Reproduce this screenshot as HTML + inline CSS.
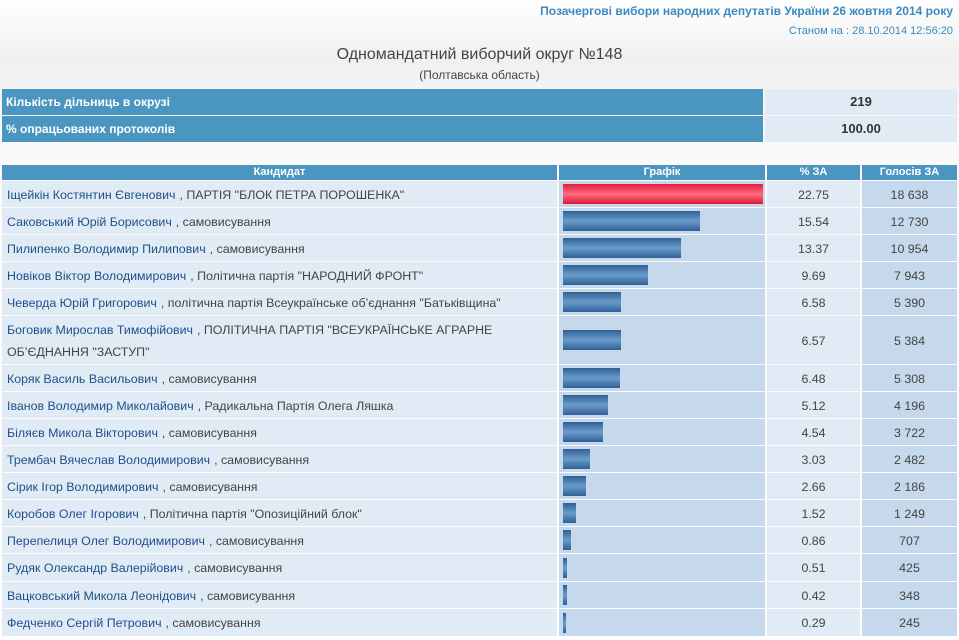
<!DOCTYPE html><html><head><meta charset="utf-8"><style>
body{margin:0;width:959px;height:640px;position:relative;overflow:hidden;font-family:"Liberation Sans","DejaVu Sans",sans-serif;background:linear-gradient(#fff 0,#f0f0f0 60px,#fafafa 150px,#fff 640px)}
div{position:absolute;box-sizing:border-box}
.h{background:#4a96c1;color:#fff;font-size:11px;font-weight:bold;text-align:center;line-height:15px;top:165px;height:15px}
.c{left:2px;width:555px;background:#e0ebf5;font-size:12.4px;color:#444;padding-left:5px;display:flex;align-items:center;line-height:22px;padding-top:1px}
.c b{font-weight:normal;color:#1f4f8a;margin-right:4px}
.g{left:559px;width:206px;background:#c6d8eb}
.p{left:767px;width:93px;background:#e0ebf5;font-size:12.4px;color:#444;text-align:center;display:flex;align-items:center;justify-content:center;padding-top:1px}
.v{left:862px;width:95px;background:#c6d8eb;font-size:12.4px;color:#444;text-align:center;display:flex;align-items:center;justify-content:center;padding-top:1px}
.bar{left:4px;height:20px;background:linear-gradient(#2f5f95,#6a9ccb 50%,#2f5f95)}
</style></head><body>
<div style="right:6px;top:4px;font-size:12px;font-weight:bold;color:#3a8ac0">Позачергові вибори народних депутатів України 26 жовтня 2014 року</div>
<div style="right:6px;top:25px;font-size:11px;color:#3a8ac0">Станом на : 28.10.2014 12:56:20</div>
<div style="left:0;width:959px;top:46px;text-align:center;font-size:16px;color:#444">Одномандатний виборчий округ №148</div>
<div style="left:0;width:959px;top:68px;text-align:center;font-size:12px;color:#444">(Полтавська область)</div>
<div style="left:2px;top:89px;width:761px;height:26px;background:#4a96c1;color:#fff;font-size:12px;font-weight:bold;line-height:26px;padding-left:4px">Кількість дільниць в окрузі</div>
<div style="left:765px;top:89px;width:192px;height:26px;background:#e0ebf5;color:#333;font-size:13px;font-weight:bold;line-height:26px;text-align:center">219</div>
<div style="left:2px;top:116px;width:761px;height:26px;background:#4a96c1;color:#fff;font-size:12px;font-weight:bold;line-height:26px;padding-left:4px">% опрацьованих протоколів</div>
<div style="left:765px;top:116px;width:192px;height:26px;background:#e0ebf5;color:#333;font-size:13px;font-weight:bold;line-height:26px;text-align:center">100.00</div>
<div class="h" style="left:2px;width:555px">Кандидат</div>
<div class="h" style="left:559px;width:206px">Графік</div>
<div class="h" style="left:767px;width:93px">% ЗА</div>
<div class="h" style="left:862px;width:95px">Голосів ЗА</div>

<div class="c" style="top:181px;height:26px"><b>Іщейкін Костянтин Євгенович</b>, ПАРТІЯ "БЛОК ПЕТРА ПОРОШЕНКА"</div>
<div class="g" style="top:181px;height:26px"><div class="bar" style="top:3px;width:200px;background:linear-gradient(#e0203c,#ff6a80 50%,#d81a35)"></div></div>
<div class="p" style="top:181px;height:26px">22.75</div><div class="v" style="top:181px;height:26px">18 638</div>

<div class="c" style="top:208px;height:26px"><b>Саковський Юрій Борисович</b>, самовисування</div>
<div class="g" style="top:208px;height:26px"><div class="bar" style="top:3px;width:137px"></div></div>
<div class="p" style="top:208px;height:26px">15.54</div><div class="v" style="top:208px;height:26px">12 730</div>

<div class="c" style="top:235px;height:26px"><b>Пилипенко Володимир Пилипович</b>, самовисування</div>
<div class="g" style="top:235px;height:26px"><div class="bar" style="top:3px;width:118px"></div></div>
<div class="p" style="top:235px;height:26px">13.37</div><div class="v" style="top:235px;height:26px">10 954</div>

<div class="c" style="top:262px;height:26px"><b>Новіков Віктор Володимирович</b>, Політична партія "НАРОДНИЙ ФРОНТ"</div>
<div class="g" style="top:262px;height:26px"><div class="bar" style="top:3px;width:85px"></div></div>
<div class="p" style="top:262px;height:26px">9.69</div><div class="v" style="top:262px;height:26px">7 943</div>

<div class="c" style="top:289px;height:26px"><b>Чеверда Юрій Григорович</b>, політична партія Всеукраїнське об’єднання "Батьківщина"</div>
<div class="g" style="top:289px;height:26px"><div class="bar" style="top:3px;width:58px"></div></div>
<div class="p" style="top:289px;height:26px">6.58</div><div class="v" style="top:289px;height:26px">5 390</div>

<div class="c" style="top:316px;height:48px"><span><b>Боговик Мирослав Тимофійович</b>, ПОЛІТИЧНА ПАРТІЯ "ВСЕУКРАЇНСЬКЕ АГРАРНЕ<br>ОБ’ЄДНАННЯ "ЗАСТУП"</span></div>
<div class="g" style="top:316px;height:48px"><div class="bar" style="top:14px;width:58px"></div></div>
<div class="p" style="top:316px;height:48px">6.57</div><div class="v" style="top:316px;height:48px">5 384</div>

<div class="c" style="top:365px;height:26px"><b>Коряк Василь Васильович</b>, самовисування</div>
<div class="g" style="top:365px;height:26px"><div class="bar" style="top:3px;width:57px"></div></div>
<div class="p" style="top:365px;height:26px">6.48</div><div class="v" style="top:365px;height:26px">5 308</div>

<div class="c" style="top:392px;height:26px"><b>Іванов Володимир Миколайович</b>, Радикальна Партія Олега Ляшка</div>
<div class="g" style="top:392px;height:26px"><div class="bar" style="top:3px;width:45px"></div></div>
<div class="p" style="top:392px;height:26px">5.12</div><div class="v" style="top:392px;height:26px">4 196</div>

<div class="c" style="top:419px;height:26px"><b>Біляєв Микола Вікторович</b>, самовисування</div>
<div class="g" style="top:419px;height:26px"><div class="bar" style="top:3px;width:40px"></div></div>
<div class="p" style="top:419px;height:26px">4.54</div><div class="v" style="top:419px;height:26px">3 722</div>

<div class="c" style="top:446px;height:26px"><b>Трембач Вячеслав Володимирович</b>, самовисування</div>
<div class="g" style="top:446px;height:26px"><div class="bar" style="top:3px;width:27px"></div></div>
<div class="p" style="top:446px;height:26px">3.03</div><div class="v" style="top:446px;height:26px">2 482</div>

<div class="c" style="top:473px;height:26px"><b>Сірик Ігор Володимирович</b>, самовисування</div>
<div class="g" style="top:473px;height:26px"><div class="bar" style="top:3px;width:23px"></div></div>
<div class="p" style="top:473px;height:26px">2.66</div><div class="v" style="top:473px;height:26px">2 186</div>

<div class="c" style="top:500px;height:26px"><b>Коробов Олег Ігорович</b>, Політична партія "Опозиційний блок"</div>
<div class="g" style="top:500px;height:26px"><div class="bar" style="top:3px;width:13px"></div></div>
<div class="p" style="top:500px;height:26px">1.52</div><div class="v" style="top:500px;height:26px">1 249</div>

<div class="c" style="top:527px;height:26px"><b>Перепелиця Олег Володимирович</b>, самовисування</div>
<div class="g" style="top:527px;height:26px"><div class="bar" style="top:3px;width:8px"></div></div>
<div class="p" style="top:527px;height:26px">0.86</div><div class="v" style="top:527px;height:26px">707</div>

<div class="c" style="top:554px;height:27px"><b>Рудяк Олександр Валерійович</b>, самовисування</div>
<div class="g" style="top:554px;height:27px"><div class="bar" style="top:4px;width:4px"></div></div>
<div class="p" style="top:554px;height:27px">0.51</div><div class="v" style="top:554px;height:27px">425</div>

<div class="c" style="top:582px;height:26px"><b>Вацковський Микола Леонідович</b>, самовисування</div>
<div class="g" style="top:582px;height:26px"><div class="bar" style="top:3px;width:4px"></div></div>
<div class="p" style="top:582px;height:26px">0.42</div><div class="v" style="top:582px;height:26px">348</div>

<div class="c" style="top:609px;height:27px"><b>Федченко Сергій Петрович</b>, самовисування</div>
<div class="g" style="top:609px;height:27px"><div class="bar" style="top:4px;width:3px"></div></div>
<div class="p" style="top:609px;height:27px">0.29</div><div class="v" style="top:609px;height:27px">245</div>
</body></html>
